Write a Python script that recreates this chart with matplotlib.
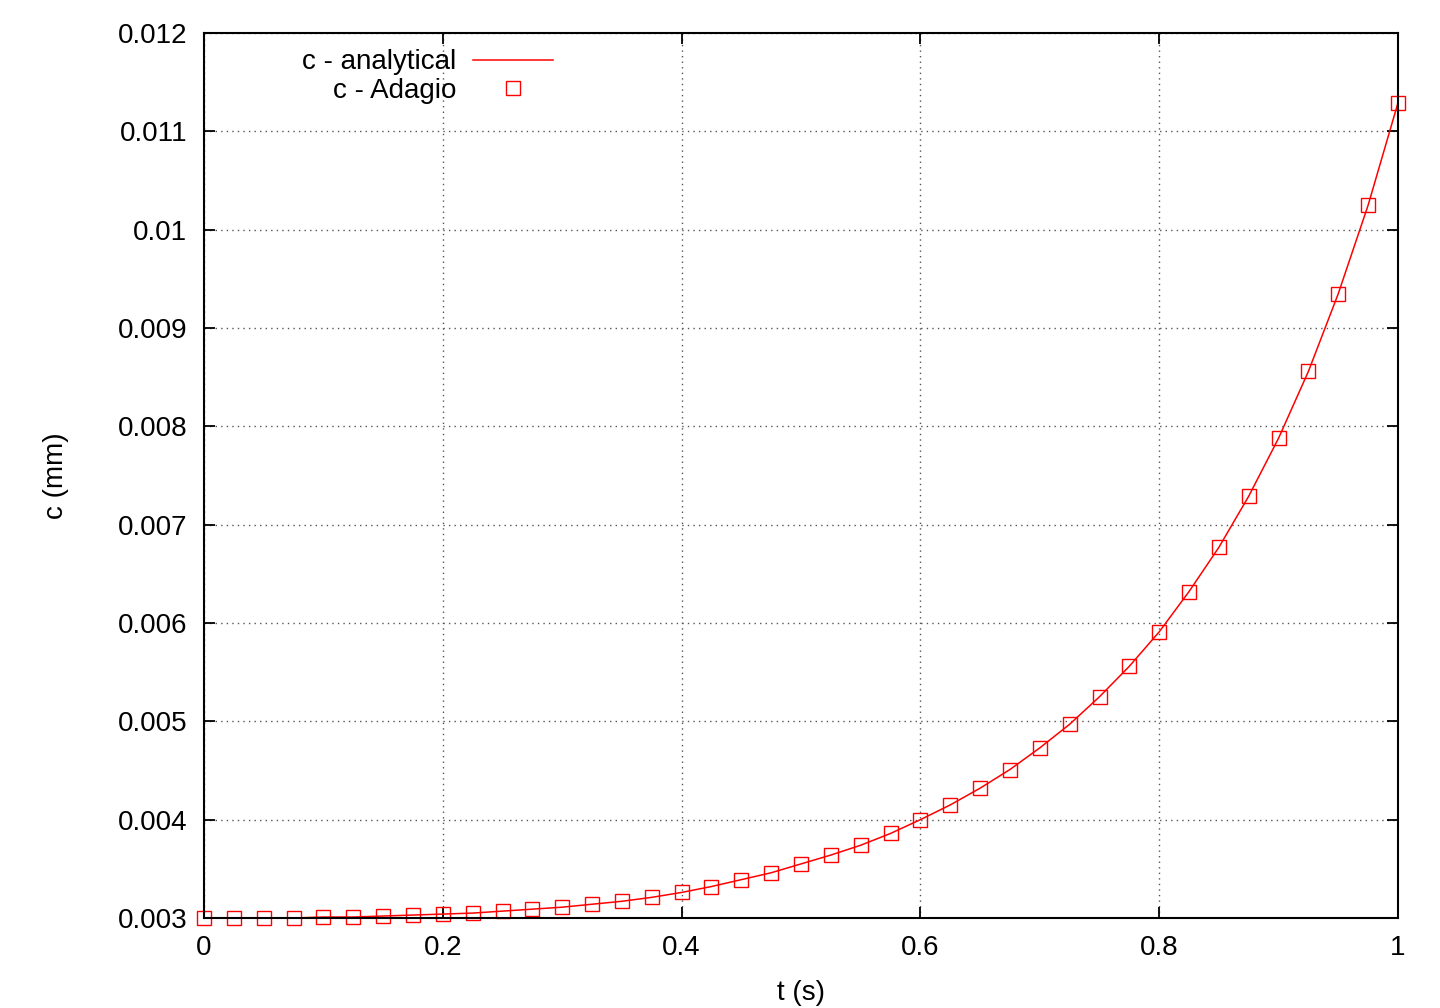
import numpy as np
import matplotlib.pyplot as plt
from matplotlib.ticker import FormatStrFormatter

plt.rcParams['font.family'] = ['Liberation Sans', 'DejaVu Sans']

# time samples (s)
t = [0.0, 0.025, 0.05, 0.075, 0.1, 0.125, 0.15, 0.175, 0.2, 0.225,
     0.25, 0.275, 0.3, 0.325, 0.35, 0.375, 0.4, 0.425, 0.45, 0.475,
     0.5, 0.525, 0.55, 0.575, 0.6, 0.625, 0.65, 0.675, 0.7, 0.725,
     0.75, 0.775, 0.8, 0.825, 0.85, 0.875, 0.9, 0.925, 0.95, 0.975, 1.0]

# c (mm)
c_adagio = [0.00300, 0.00300, 0.00300, 0.00300, 0.00301, 0.00301, 0.00302, 0.00303,
            0.00304, 0.00305, 0.00307, 0.00309, 0.00311, 0.00314, 0.00317, 0.00321,
            0.00326, 0.00332, 0.00339, 0.00346, 0.00355, 0.00364, 0.00374, 0.00386,
            0.00400, 0.00415, 0.00432, 0.00451, 0.00473, 0.00497, 0.00525, 0.00556,
            0.00591, 0.00632, 0.00677, 0.00729, 0.00788, 0.00856, 0.00935, 0.01025,
            0.01129]
c_analytical = c_adagio

fs = 20

fig = plt.figure(figsize=(14.4, 10.08), dpi=100)
ax = fig.add_axes([204/1440, 1 - 918/1008, 1194/1440, 885/1008])

ax.plot(t, c_analytical, color='red', linewidth=1.1)
ax.plot(t, c_adagio, linestyle='none', marker='s', markersize=9.5,
        markerfacecolor='none', markeredgecolor='red', markeredgewidth=1.0,
        clip_on=False)

ax.set_xlim(0, 1)
ax.set_ylim(0.003, 0.012)
ax.set_xticks([0, 0.2, 0.4, 0.6, 0.8, 1.0])
ax.set_yticks(np.arange(0.003, 0.01201, 0.001))
ax.xaxis.set_major_formatter(FormatStrFormatter('%g'))
ax.yaxis.set_major_formatter(FormatStrFormatter('%g'))
ax.tick_params(direction='in', length=8, width=1.3, labelsize=fs,
               top=True, right=True, pad=12)
ax.grid(True, linestyle=(0, (1, 3)), color='#555555', linewidth=1.0)
for s in ax.spines.values():
    s.set_linewidth(1.5)

ax.set_xlabel('t (s)', fontsize=fs, labelpad=14)
ax.set_ylabel('c (mm)', fontsize=fs, labelpad=35)

# gnuplot-style key: right aligned text, sample on the right
ax.text(0.211, 0.967, 'c - analytical', transform=ax.transAxes,
        ha='right', va='center', fontsize=fs)
ax.text(0.211, 0.935, 'c - Adagio', transform=ax.transAxes,
        ha='right', va='center', fontsize=fs)
ax.plot([0.2253, 0.2923], [0.9695, 0.9695], transform=ax.transAxes,
        color='red', linewidth=1.1, clip_on=False)
ax.plot([0.2588], [0.9379], transform=ax.transAxes, linestyle='none',
        marker='s', markersize=9.5, markerfacecolor='none',
        markeredgecolor='red', markeredgewidth=1.0, clip_on=False)

fig.savefig('out.png', dpi=100)
